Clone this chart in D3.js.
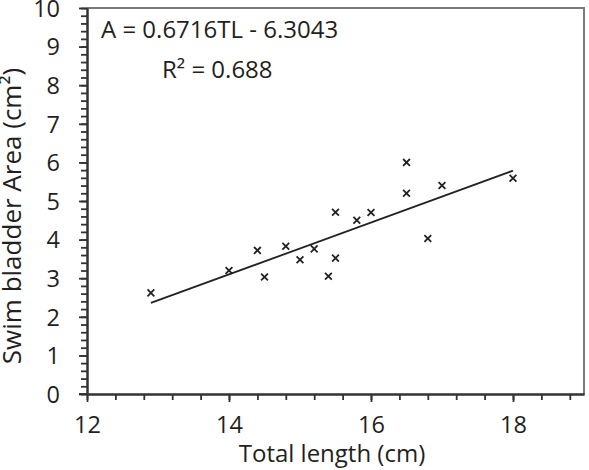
<!DOCTYPE html>
<html>
<head>
<meta charset="utf-8">
<script src="https://cdn.jsdelivr.net/npm/d3@7"></script>
<style>
  html, body { margin: 0; padding: 0; background: #fff; }
  svg { display: block; }
  text { font-family: "Open Sans", "Noto Sans", sans-serif; fill: #231f20; }
</style>
</head>
<body>
<svg id="chart" width="589" height="470"></svg>
<script>
// ---- data ----
const totalLength = [12.9, 14.0, 14.4, 14.5, 14.8, 15.0, 15.2, 15.4, 15.5, 15.5, 15.8, 16.0, 16.5, 16.5, 16.8, 17.0, 18.0];
const swimBladderArea = [2.62, 3.2, 3.72, 3.03, 3.83, 3.48, 3.76, 3.05, 4.71, 3.52, 4.5, 4.7, 6.0, 5.2, 4.03, 5.4, 5.59];
const xTickLabels = [12, 14, 16, 18];
const yTickLabels = [0, 1, 2, 3, 4, 5, 6, 7, 8, 9, 10];
const slope = 0.6716;
const intercept = -6.3043;
const fitRange = [12.9, 18.0];
const equationText = "A = 0.6716TL - 6.3043";
const r2Text = "R\u00B2 = 0.688";
const xTitle = "Total length (cm)";
const yTitle = "Swim bladder Area (cm\u00B2)";

// ---- layout ----
const svg = d3.select("#chart");
const mLeft = 87, mRight = 584, mTop = 8, mBottom = 394;

const x = d3.scaleLinear().domain([12, 19]).range([mLeft, mRight]);
const y = d3.scaleLinear().domain([0, 10]).range([mBottom, mTop]);

const axisColor = "#333";
const frameColor = "#7a7a7a";

// frame (top & right)
svg.append("path")
  .attr("d", `M${mLeft},${mTop}H${mRight}V${mBottom}`)
  .attr("fill", "none").attr("stroke", frameColor).attr("stroke-width", 2);

// minor ticks
const xMinor = d3.range(0, 18).map(i => +(12 + i * 0.4).toFixed(1));
const yMinor = d3.range(0, 51).map(i => +(i * 0.2).toFixed(1));

const gxMinor = svg.append("g").attr("class", "minor").attr("transform", `translate(0,${mBottom})`)
  .call(d3.axisBottom(x).tickValues(xMinor).tickSize(6).tickSizeOuter(0).tickFormat(() => ""));
const gyMinor = svg.append("g").attr("class", "minor").attr("transform", `translate(${mLeft},0)`)
  .call(d3.axisLeft(y).tickValues(yMinor).tickSize(6).tickSizeOuter(0).tickFormat(() => ""));

// major ticks + labels
const gx = svg.append("g").attr("transform", `translate(0,${mBottom})`)
  .call(d3.axisBottom(x).tickValues(xTickLabels).tickSize(8).tickSizeOuter(0).tickFormat(d3.format("d")));
const gy = svg.append("g").attr("transform", `translate(${mLeft},0)`)
  .call(d3.axisLeft(y).tickValues(yTickLabels).tickSize(8).tickSizeOuter(0).tickFormat(d3.format("d")));

[gxMinor, gyMinor, gx, gy].forEach(g => {
  g.selectAll("path.domain").attr("stroke", axisColor).attr("stroke-width", 2);
  g.selectAll(".tick line").attr("stroke", axisColor).attr("stroke-width", 1.8);
});
svg.append("line").attr("x1", mLeft - 8).attr("x2", mLeft).attr("y1", mBottom).attr("y2", mBottom)
  .attr("stroke", axisColor).attr("stroke-width", 2);

gx.selectAll(".tick text")
  .attr("y", 39).attr("dy", 0)
  .style("font-size", "23.5px").style("font-family", "'Open Sans', sans-serif").attr("fill", "#231f20");
gy.selectAll(".tick text")
  .attr("x", -27).attr("dy", "0.35em")
  .style("font-size", "23.5px").style("font-family", "'Open Sans', sans-serif").attr("fill", "#231f20");

// regression line
svg.append("line")
  .attr("x1", x(fitRange[0])).attr("y1", y(slope * fitRange[0] + intercept))
  .attr("x2", x(fitRange[1])).attr("y2", y(slope * fitRange[1] + intercept))
  .attr("stroke", "#222").attr("stroke-width", 1.8);

// markers
const m = 3.4;
svg.append("g").selectAll("path").data(totalLength.map((d, i) => [d, swimBladderArea[i]]))
  .enter().append("path")
  .attr("d", d => {
    const cx = x(d[0]), cy = y(d[1]);
    return `M${cx - m},${cy - m}L${cx + m},${cy + m}M${cx - m},${cy + m}L${cx + m},${cy - m}`;
  })
  .attr("stroke", "#222").attr("stroke-width", 1.8).attr("fill", "none");

// equation annotations
svg.append("text").attr("x", 101).attr("y", 38)
  .style("font-size", "24px").text(equationText);
svg.append("text").attr("x", 162).attr("y", 78)
  .style("font-size", "24px").text(r2Text);

// axis titles
svg.append("text").attr("x", 332).attr("y", 462).attr("text-anchor", "middle")
  .style("font-size", "24px").text(xTitle);
svg.append("text").attr("transform", "translate(21,216) rotate(-90)").attr("text-anchor", "middle")
  .style("font-size", "26px").text(yTitle);
</script>
</body>
</html>
